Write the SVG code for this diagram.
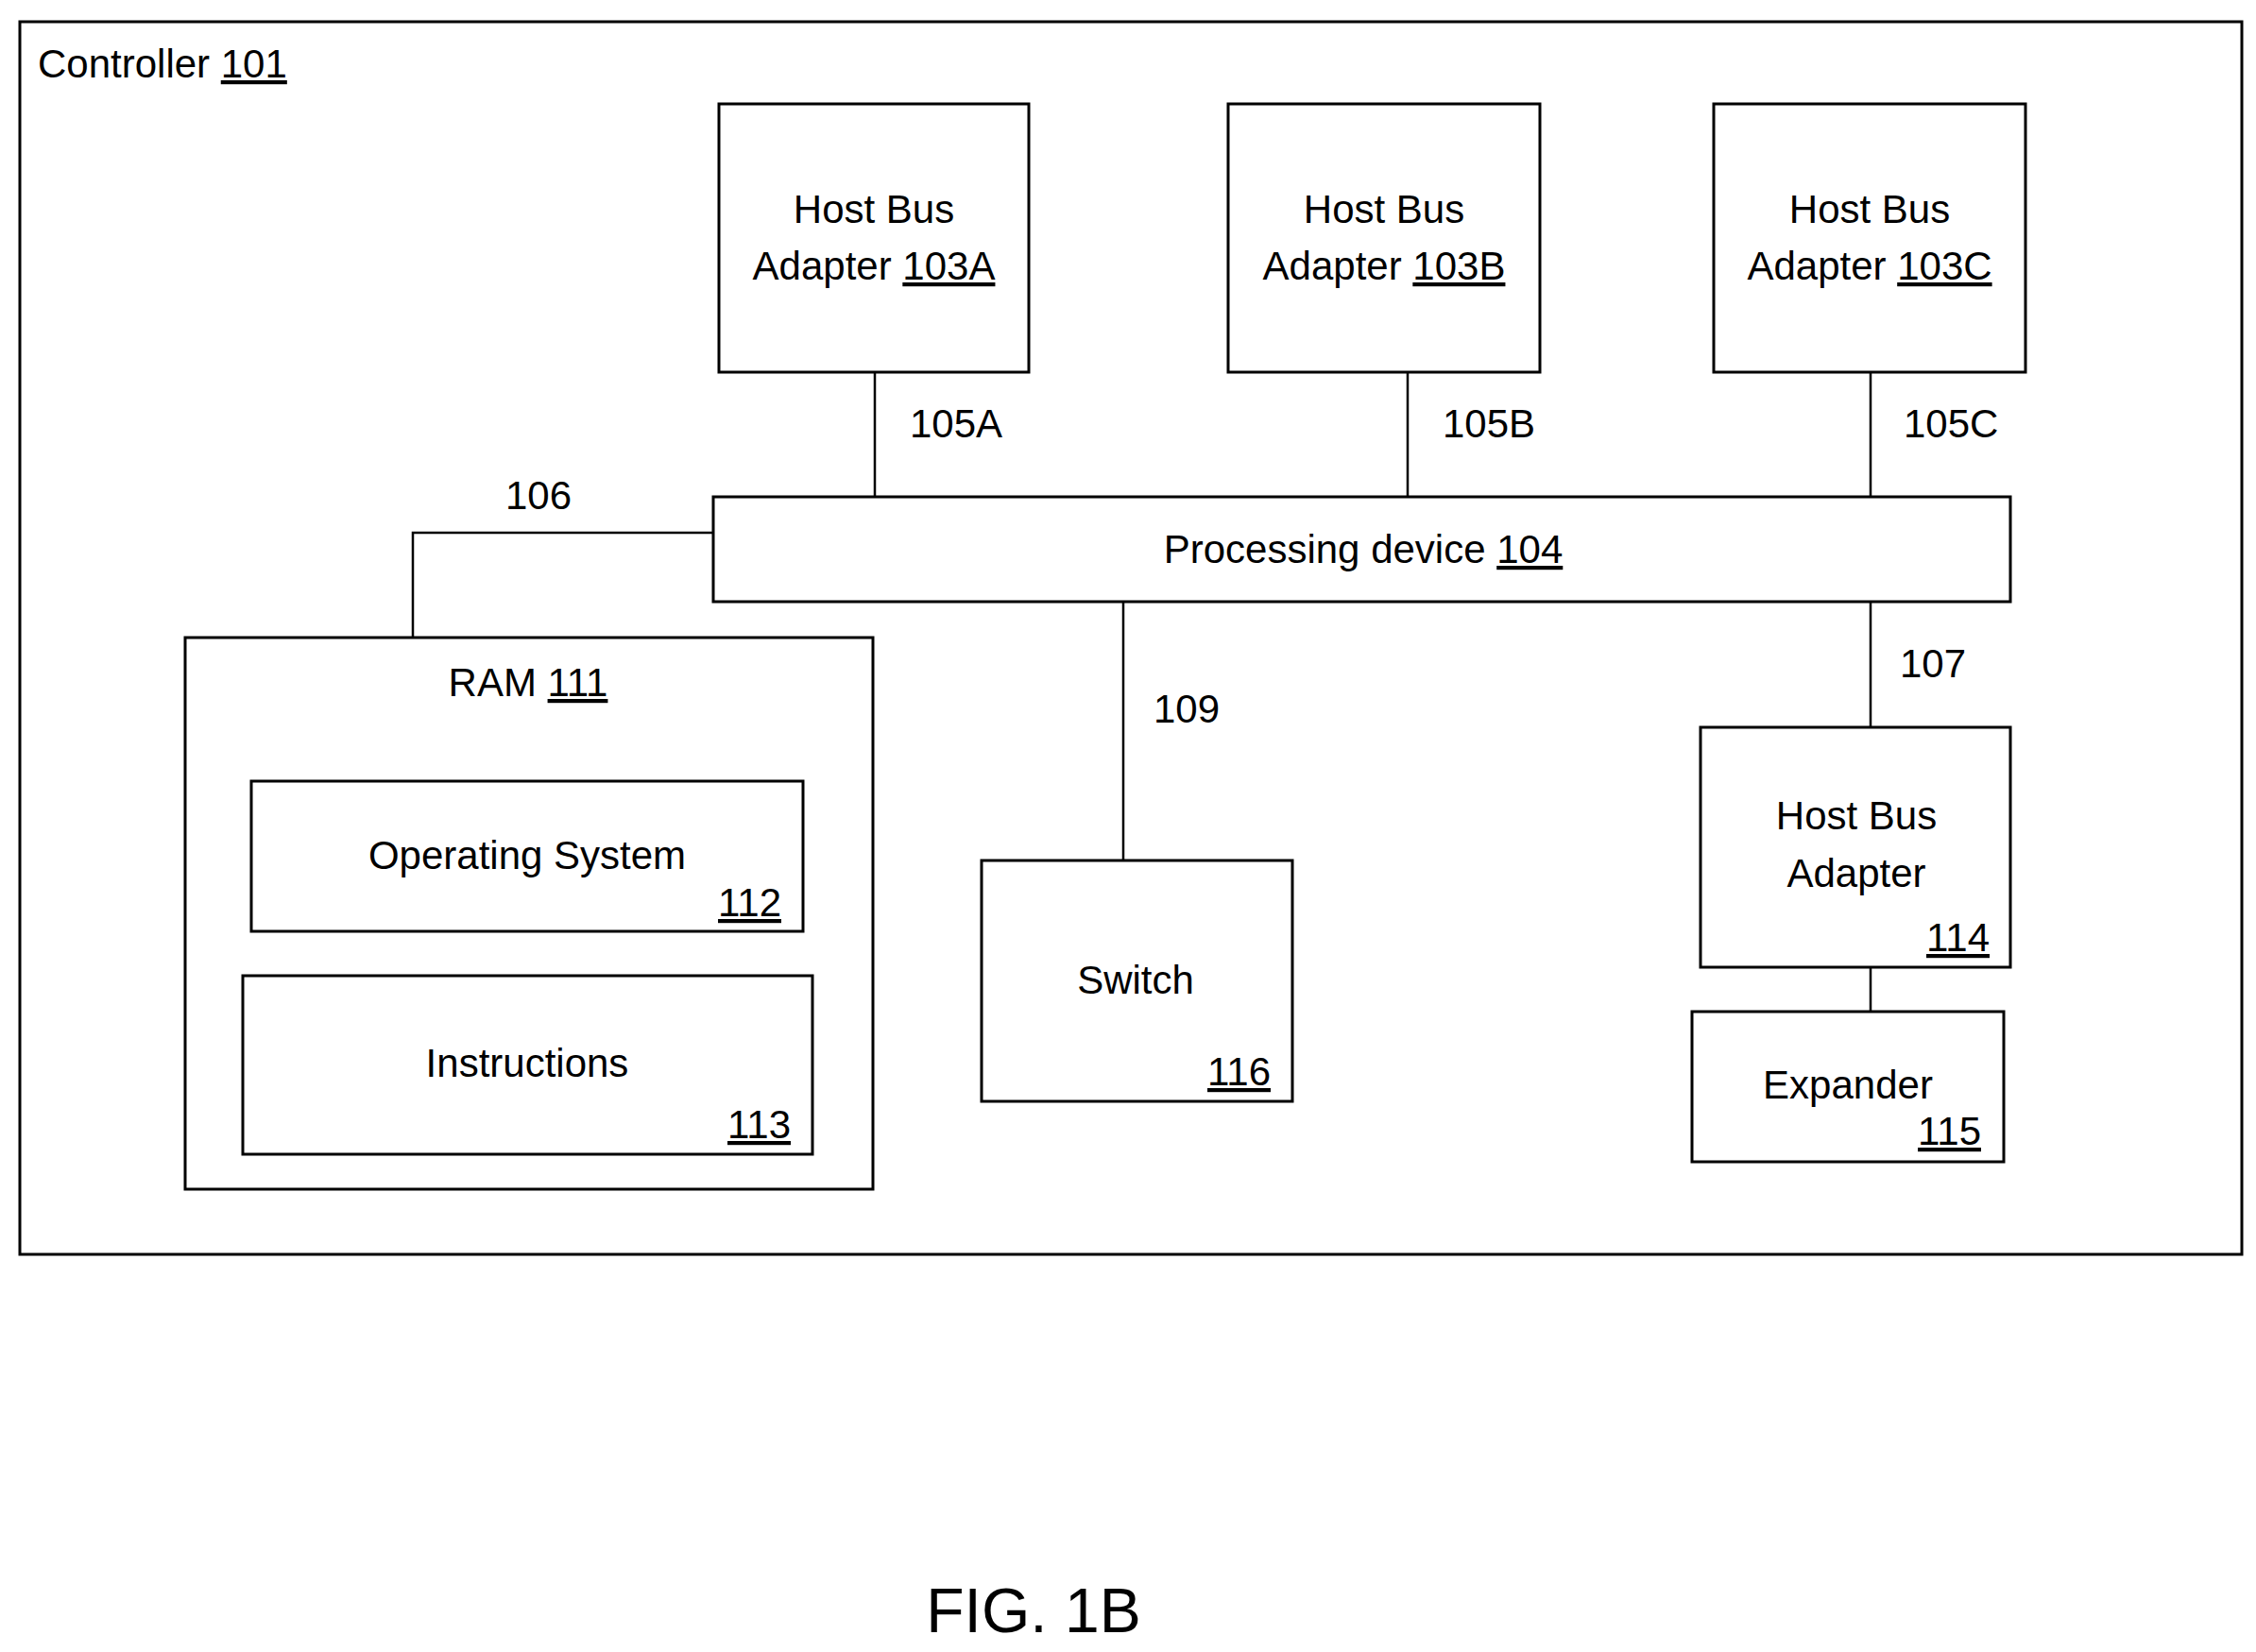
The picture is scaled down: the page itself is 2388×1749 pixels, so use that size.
<svg xmlns="http://www.w3.org/2000/svg" width="2388" height="1749" viewBox="0 0 2388 1749">
<style>
.b{fill:#fff;stroke:#000;stroke-width:3}
.l{fill:none;stroke:#000;stroke-width:2.5}
text{font-family:"Liberation Sans",Arial,sans-serif;font-size:42px;fill:#000}
.c{text-anchor:middle}
.r{text-anchor:end}
.u{text-decoration:underline}
</style>
<rect width="2388" height="1749" fill="#fff"/>
<g id="controller"><rect class="b" x="21" y="23" width="2352" height="1305"/><text x="40" y="82">Controller <tspan class="u">101</tspan></text></g>
<g id="connectors">
<path class="l" d="M926 394V526M1490 394V526M1980 394V526M755 564H437V675M1189 637V911M1980 637V770M1980 1024V1071"/>
<text x="963" y="463">105A</text><text x="1527" y="463">105B</text><text x="2015" y="463">105C</text>
<text x="535" y="539">106</text><text x="1221" y="765">109</text><text x="2011" y="717">107</text>
</g>
<g id="hba103a"><rect class="b" x="761" y="110" width="328" height="284"/><text class="c" x="925" y="236">Host Bus</text><text class="c" x="925" y="296">Adapter <tspan class="u">103A</tspan></text></g>
<g id="hba103b"><rect class="b" x="1300" y="110" width="330" height="284"/><text class="c" x="1465" y="236">Host Bus</text><text class="c" x="1465" y="296">Adapter <tspan class="u">103B</tspan></text></g>
<g id="hba103c"><rect class="b" x="1814" y="110" width="330" height="284"/><text class="c" x="1979" y="236">Host Bus</text><text class="c" x="1979" y="296">Adapter <tspan class="u">103C</tspan></text></g>
<g id="proc"><rect class="b" x="755" y="526" width="1373" height="111"/><text class="c" x="1443" y="596">Processing device <tspan class="u">104</tspan></text></g>
<g id="ram"><rect class="b" x="196" y="675" width="728" height="584"/><text class="c" x="559" y="737">RAM <tspan class="u">111</tspan></text></g>
<g id="os"><rect class="b" x="266" y="827" width="584" height="159"/><text class="c" x="558" y="920">Operating System</text><text class="r u" x="827" y="970">112</text></g>
<g id="instr"><rect class="b" x="257" y="1033" width="603" height="189"/><text class="c" x="558" y="1140">Instructions</text><text class="r u" x="837" y="1205">113</text></g>
<g id="switch"><rect class="b" x="1039" y="911" width="329" height="255"/><text class="c" x="1202" y="1052">Switch</text><text class="r u" x="1345" y="1149">116</text></g>
<g id="hba114"><rect class="b" x="1800" y="770" width="328" height="254"/><text class="c" x="1965" y="878">Host Bus</text><text class="c" x="1965" y="939">Adapter</text><text class="r u" x="2106" y="1007">114</text></g>
<g id="expander"><rect class="b" x="1791" y="1071" width="330" height="159"/><text class="c" x="1956" y="1163">Expander</text><text class="r u" x="2097" y="1212">115</text></g>
<text class="c" x="1094" y="1728" style="font-size:66px">FIG. 1B</text>
</svg>
